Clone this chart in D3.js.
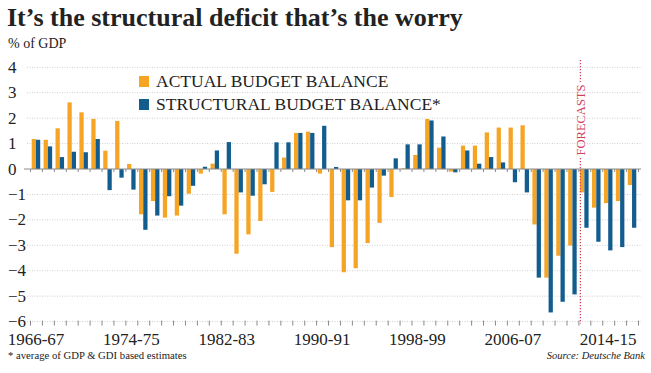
<!DOCTYPE html>
<html>
<head>
<meta charset="utf-8">
<script src="https://cdn.jsdelivr.net/npm/d3@7"></script>
<style>
  body { margin: 0; background: #fff; }
  svg { display: block; font-family: 'Liberation Serif', 'DejaVu Serif', serif; fill: #222; }
  .c-grid line { stroke: #cfcfcf; stroke-width: 1; stroke-dasharray: 1,1.5; }
  .c-axis path { display: none; }
  .c-axis line { stroke: #8a8a8a; }
  .c-zero { stroke: #8a8a8a; stroke-width: 1; }
  .c-forecast { stroke: #d2405f; stroke-width: 1.3; stroke-dasharray: 1.3,1.7; }
</style>
</head>
<body>
<div id="deficitChart"></div>
<script>
// financial years, one band each
const years = [
  '1966-67', '1967-68', '1968-69', '1969-70', '1970-71', '1971-72', '1972-73', '1973-74',
  '1974-75', '1975-76', '1976-77', '1977-78', '1978-79', '1979-80', '1980-81', '1981-82',
  '1982-83', '1983-84', '1984-85', '1985-86', '1986-87', '1987-88', '1988-89', '1989-90',
  '1990-91', '1991-92', '1992-93', '1993-94', '1994-95', '1995-96', '1996-97', '1997-98',
  '1998-99', '1999-00', '2000-01', '2001-02', '2002-03', '2003-04', '2004-05', '2005-06',
  '2006-07', '2007-08', '2008-09', '2009-10', '2010-11', '2011-12', '2012-13', '2013-14',
  '2014-15', '2015-16', '2016-17'
];
const tickYears = ['1966-67', '1974-75', '1982-83', '1990-91', '1998-99', '2006-07', '2014-15'];
const yTicks = [4, 3, 2, 1, 0, -1, -2, -3, -4, -5, -6];

// % of GDP
const actualBalance = [
  1.18, 1.15, 1.6, 2.62, 2.23, 1.97, 0.72, 1.89,
  0.2, -1.78, -1.26, -1.91, -1.83, -0.97, -0.18, 0.21,
  -1.78, -3.33, -2.57, -2.04, -0.9, 0.45, 1.42, 1.47,
  -0.18, -3.07, -4.06, -3.9, -2.91, -2.12, -1.1, 0.03,
  0.55, 1.97, 0.84, -0.1, 0.92, 0.92, 1.44, 1.63,
  1.63, 1.72, -2.18, -4.27, -3.41, -3.01, -0.92, -1.52,
  -1.34, -1.26, -0.63
];
const structuralBalance = [
  1.15, 0.89, 0.47, 0.68, 0.66, 1.18, -0.83, -0.34,
  -0.81, -2.39, -1.83, -1.07, -1.44, -0.66, 0.09, 0.73,
  1.06, -0.92, -1.05, -0.6, 1.05, 1.05, 1.42, 1.42,
  1.7, 0.08, -1.23, -1.23, -0.73, -0.26, 0.42, 0.97,
  0.97, 1.91, 1.28, -0.13, 0.73, 0.21, 0.47, 0.26,
  -0.52, -0.92, -4.27, -5.64, -5.22, -4.93, -2.31, -2.86,
  -3.2, -3.07, -2.31
];

const seriesKeys = ['actual', 'structural'];
const seriesLabels = ['ACTUAL BUDGET BALANCE', 'STRUCTURAL BUDGET BALANCE*'];
const seriesColors = ['#f5a424', '#135d8e'];
const firstForecastYear = '2012-13';

const serif = "'Liberation Serif', 'DejaVu Serif', serif";

class DeficitChart {
  constructor() {
    this.chartContainer = d3.select('#deficitChart');
    this.chart = null;
    this.chartWidth = 651;
    this.chartHeight = 373;
    this.plotLeft = 30;
    this.plotRight = 638;
    this.yearScale = null;
    this.seriesScale = null;
    this.valueScale = null;
    this.rows = years.map((year, i) => ({
      year: year,
      actual: actualBalance[i],
      structural: structuralBalance[i]
    }));
  }

  render() {
    this.createSvg();
    this.initScales();
    this.drawGrid();
    this.drawBars();
    this.drawAxes();
    this.drawForecast();
    this.drawLegend();
    this.drawTexts();
  }

  createSvg() {
    this.chart = this.chartContainer
      .append('svg')
      .attr('width', this.chartWidth)
      .attr('height', this.chartHeight);
    this.chart.append('rect')
      .attr('width', this.chartWidth)
      .attr('height', this.chartHeight)
      .attr('fill', '#fff');
  }

  initScales() {
    this.yearScale = d3.scaleBand().domain(years).range([this.plotLeft, this.plotRight]).padding(0);
    this.seriesScale = d3.scaleBand().domain(seriesKeys)
      .range([0, this.yearScale.bandwidth()]).paddingInner(0).paddingOuter(0.4);
    this.valueScale = d3.scaleLinear().domain([-6, 4]).range([321.6, 67.3]);
    // band edges, for the little tick marks
    this.edgeScale = d3.scaleLinear().domain([0, years.length]).range([this.plotLeft, this.plotRight]);
  }

  drawGrid() {
    this.chart.append('g')
      .attr('class', 'c-grid')
      .selectAll('line')
      .data(yTicks.filter(d => d !== 0))
      .join('line')
      .attr('x1', 27)
      .attr('x2', 641)
      .attr('y1', d => this.valueScale(d))
      .attr('y2', d => this.valueScale(d));
  }

  drawBars() {
    seriesKeys.forEach((key, s) => {
      this.chart.append('g')
        .attr('class', 'c-bars-' + key)
        .attr('fill', seriesColors[s])
        .selectAll('rect')
        .data(this.rows)
        .join('rect')
        .attr('x', d => this.yearScale(d.year) + this.seriesScale(key))
        .attr('width', this.seriesScale.bandwidth())
        .attr('y', d => this.valueScale(Math.max(0, d[key])))
        .attr('height', d => Math.abs(this.valueScale(d[key]) - this.valueScale(0)));
    });
  }

  drawAxes() {
    let edges = d3.range(years.length + 1);

    // zero line with small ticks below
    this.chart.append('line')
      .attr('class', 'c-zero')
      .attr('x1', 24)
      .attr('x2', 641)
      .attr('y1', this.valueScale(0))
      .attr('y2', this.valueScale(0));
    this.chart.append('g')
      .attr('class', 'c-axis')
      .attr('transform', 'translate(0, ' + this.valueScale(0) + ')')
      .call(d3.axisBottom(this.edgeScale).tickValues(edges).tickSize(3).tickFormat(''));

    // bottom ticks
    this.chart.append('g')
      .attr('class', 'c-axis')
      .attr('transform', 'translate(0, ' + (this.valueScale(-6) - 1) + ')')
      .call(d3.axisBottom(this.edgeScale).tickValues(edges).tickSize(5).tickFormat(''));

    // year labels
    let yearAxis = this.chart.append('g')
      .attr('class', 'c-axis')
      .attr('transform', 'translate(0, ' + this.valueScale(-6) + ')')
      .call(d3.axisBottom(this.yearScale).tickValues(tickYears).tickSize(0));
    yearAxis.attr('font-family', serif).attr('font-size', 17);
    yearAxis.selectAll('text')
      .attr('y', 23.5)
      .attr('dy', 0)
      .style('font-family', serif)
      .style('font-size', '17px')
      .attr('fill', '#222');

    // value labels, left aligned
    let valueAxis = this.chart.append('g')
      .attr('class', 'c-axis')
      .call(d3.axisLeft(this.valueScale).tickValues(yTicks).tickSize(0));
    valueAxis.attr('font-family', serif).attr('font-size', 17);
    valueAxis.selectAll('text')
      .attr('x', 8)
      .attr('dy', '0.3em')
      .attr('text-anchor', 'start')
      .style('font-family', serif)
      .style('font-size', '17px')
      .attr('fill', '#222');
  }

  drawForecast() {
    let xf = this.yearScale(firstForecastYear) + 2;
    let textMid = 120;
    let g = this.chart.append('g').attr('class', 'c-forecast-mark');
    g.append('line')
      .attr('class', 'c-forecast')
      .attr('x1', xf).attr('x2', xf)
      .attr('y1', 60).attr('y2', 82);
    g.append('line')
      .attr('class', 'c-forecast')
      .attr('x1', xf).attr('x2', xf)
      .attr('y1', 158).attr('y2', this.valueScale(-6) + 2);
    g.append('text')
      .attr('transform', 'translate(' + (xf + 4.5) + ', ' + textMid + ') rotate(-90)')
      .attr('text-anchor', 'middle')
      .attr('font-size', 12.5)
      .style('fill', '#d2405f')
      .text('FORECASTS');
  }

  drawLegend() {
    let legend = this.chart.append('g')
      .attr('class', 'c-legend')
      .attr('transform', 'translate(139, 76)');
    let item = legend.selectAll('g')
      .data(seriesLabels)
      .join('g')
      .attr('transform', (d, i) => 'translate(0, ' + (i * 23) + ')');
    item.append('rect')
      .attr('width', 10)
      .attr('height', 11)
      .style('fill', (d, i) => seriesColors[i]);
    item.append('text')
      .attr('x', 17)
      .attr('y', 11)
      .attr('font-size', 17.5)
      .text(d => d);
  }

  drawTexts() {
    this.chart.append('text')
      .attr('x', 7)
      .attr('y', 26)
      .attr('font-size', 26)
      .attr('font-weight', 'bold')
      .text('It\u2019s the structural deficit that\u2019s the worry');
    this.chart.append('text')
      .attr('x', 8)
      .attr('y', 48)
      .attr('font-size', 14)
      .text('% of GDP');
    this.chart.append('text')
      .attr('x', 8)
      .attr('y', 359)
      .attr('font-size', 10.7)
      .text('* average of GDP & GDI based estimates');
    this.chart.append('text')
      .attr('x', 645)
      .attr('y', 359)
      .attr('text-anchor', 'end')
      .attr('font-size', 10.5)
      .attr('font-style', 'italic')
      .text('Source: Deutsche Bank');
  }
}

new DeficitChart().render();
</script>
</body>
</html>
